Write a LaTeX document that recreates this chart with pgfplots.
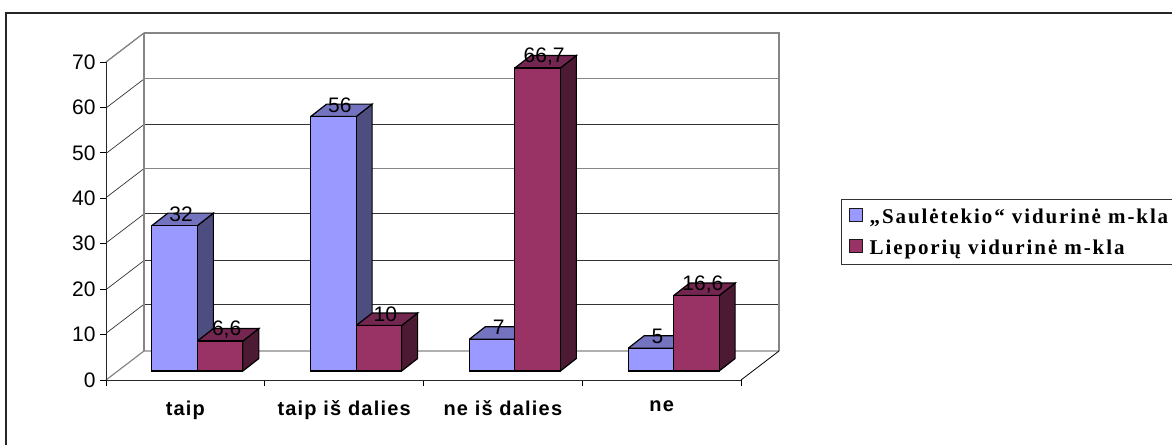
\documentclass[border=0pt]{standalone}
\usepackage{fontspec}
\usepackage{pgfplots}
\pgfplotsset{compat=1.18}
\setmainfont{Liberation Sans}
\newfontfamily\legfont[LetterSpace=9]{Liberation Serif}
\newfontfamily\catfont[LetterSpace=6]{Liberation Sans}
\definecolor{blueF}{HTML}{9999FF}
\definecolor{blueS}{HTML}{4D4D80}
\definecolor{blueT}{HTML}{7373BF}
\definecolor{redF}{HTML}{993366}
\definecolor{redS}{HTML}{4D1A33}
\definecolor{redT}{HTML}{732650}
\definecolor{wall}{HTML}{868686}

% side and top face of one bar: left edge, right edge, value, colours
\newcommand{\barfaces}[5]{%
  \pgfmathsetmacro\xa{#1+0.1008}%
  \pgfmathsetmacro\xb{#2+0.1008}%
  \pgfmathsetmacro\yb{#3+2.75}%
  \addplot[forget plot,draw=black,line width=1.2pt,fill=#4] coordinates
    {(#2,0) (\xb,2.75) (\xb,\yb) (#2,#3) (#2,0)};
  \addplot[forget plot,draw=black,line width=1.2pt,fill=#5] coordinates
    {(#1,#3) (\xa,\yb) (\xb,\yb) (#2,#3) (#1,#3)};
}

\begin{document}
\begin{tikzpicture}[x=1pt,y=1pt]
\useasboundingbox (0,0) rectangle (1172,445);
\draw[black!85,line width=1.2pt] (6,0) -- (6,432) -- (1172,432);

% walls and grid
\foreach \yy/\cc in {33/wall,79/wall,124.5/black!80,168.6/wall,214/black!80,260.6/black!80,304.3/black!80}{
  \draw[\cc,line width=1pt] (144,445-\yy) -- (779,445-\yy);
  \draw[black!80,line width=0.7pt] (144,445-\yy) -- (106,445-\yy-29);
}
\draw[wall,line width=1.2pt] (144,445-33) -- (106,445-62);
\draw[wall,line width=1.2pt] (106,445-380) -- (144,445-351) -- (779,445-351);
\draw[wall,line width=1.2pt] (144,445-33) -- (779,445-33) -- (779,445-351);
\draw[wall,line width=1.2pt] (144,445-33) -- (144,445-351);
\draw[black,line width=0.8pt] (741,445-380) -- (779,445-351);

\begin{axis}[
  at={(106pt,65pt)},anchor=south west,
  scale only axis,width=635pt,height=318pt,
  xmin=0,xmax=4,ymin=0,ymax=70,
  axis x line=bottom,axis y line=left,
  axis line style={-,line width=1pt,black!85},
  ytick={0,10,...,70},
  xtick={0.5,1.5,2.5,3.5},
  xticklabels={taip,taip iš dalies,ne iš dalies,ne},
  minor xtick={0,1,2,3,4},
  tick align=outside,
  major tick length=6pt,
  minor tick length=6pt,
  xtick style={draw=none},
  minor x tick style={draw=black,line width=0.8pt},
  ytick style={draw=black,line width=0.8pt},
  /pgf/number format/assume math mode=true,
  tick label style={font=\fontsize{21}{24}\selectfont},
  x tick label style={font=\fontsize{20}{24}\selectfont\catfont\bfseries,yshift=-11pt},
  y tick label style={xshift=-1pt},
]
\end{axis}

\begin{axis}[
  at={(118pt,74pt)},anchor=south west,
  scale only axis,width=635pt,height=318pt,
  xmin=0,xmax=4,ymin=0,ymax=70,
  hide axis,clip=false,
  /pgf/number format/assume math mode=true,
  /pgf/number format/use comma,
  nodes near coords style={font=\fontsize{21}{24}\selectfont,anchor=center,yshift=11.5pt,text=black},
  legend style={
    at={(723pt,172pt)},anchor=north west,
    draw=black!80,line width=1pt,
    font=\fontsize{21}{24}\selectfont\legfont\bfseries,
    cells={anchor=west},
    row sep=11pt,inner sep=7pt,
  },
  legend image code/.code={\draw[#1,draw=black!90,line width=1.2pt] (0pt,-5pt) rectangle (13pt,8pt); \path (18pt,0pt);},
]
\barfaces{0.2134}{0.5}{32}{blueS}{blueT}
\barfaces{1.2134}{1.5}{56}{blueS}{blueT}
\barfaces{2.2134}{2.5}{7}{blueS}{blueT}
\barfaces{3.2134}{3.5}{5}{blueS}{blueT}
\addplot[ybar,bar width=45.5pt,bar shift=-22.75pt,fill=blueF,draw=black,line width=1.2pt,
  nodes near coords,every node near coord/.append style={xshift=-16.25pt}]
  coordinates {(0.5,32) (1.5,56) (2.5,7) (3.5,5)};
\addlegendentry{„Saulėtekio“ vidurinė m-kla}
\barfaces{0.5}{0.7866}{6.6}{redS}{redT}
\barfaces{1.5}{1.7866}{10}{redS}{redT}
\barfaces{2.5}{2.7866}{66.7}{redS}{redT}
\barfaces{3.5}{3.7866}{16.6}{redS}{redT}
\addplot[ybar,bar width=45.5pt,bar shift=22.75pt,fill=redF,draw=black,line width=1.2pt,
  nodes near coords,every node near coord/.append style={xshift=29.25pt}]
  coordinates {(0.5,6.6) (1.5,10) (2.5,66.7) (3.5,16.6)};
\addlegendentry{Lieporių vidurinė m-kla}
\end{axis}
\end{tikzpicture}
\end{document}
